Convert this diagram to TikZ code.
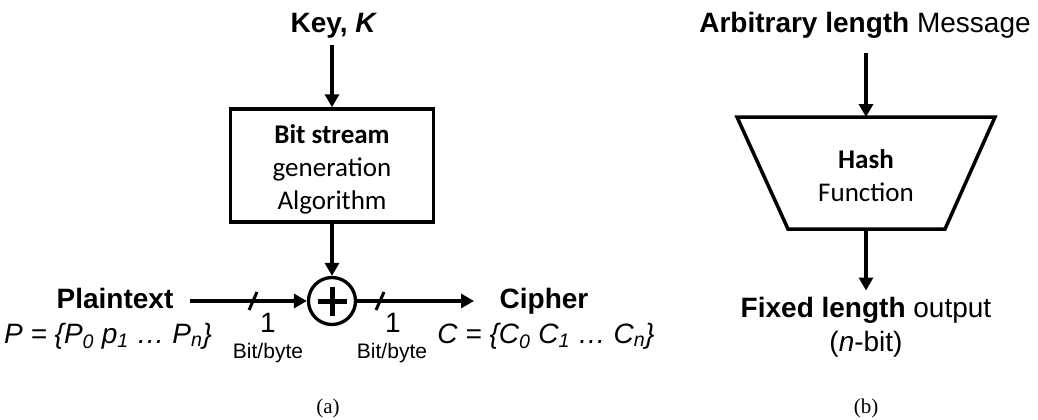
\documentclass[tikz,border=0pt]{standalone}
\usepackage{fontspec}
\setmainfont{Liberation Sans}
\newfontfamily\calib{Carlito}
\newfontfamily\serif{Liberation Serif}
\usetikzlibrary{arrows.meta}

\begin{document}
\begin{tikzpicture}[x=1pt,y=-1pt,
  arr/.style={line width=3.3pt,-{Triangle[length=13pt,width=14pt]}},
  lbl/.style={inner sep=0pt,anchor=base,font=\fontsize{28}{33}\selectfont},
  small/.style={inner sep=0pt,anchor=base,font=\fontsize{21}{25}\selectfont},
  blk/.style={draw,line width=3.5pt,inner sep=0pt},
  blktext/.style={inner sep=0pt,align=center,font=\calib\fontsize{27}{33}\selectfont},
  capt/.style={inner sep=0pt,anchor=base,font=\serif\fontsize{21}{25}\selectfont},
  tick/.style={line width=3pt}]
\useasboundingbox (0,0) rectangle (1038,420);

% ---------- (a) stream cipher ----------
\node[lbl] (key) at (334,33) {\textbf{Key, \textit{K}}};
\node[blk,minimum width=203pt,minimum height=113pt] (gen) at (332,165.5) {};
\node[blktext] (gentext) at (332,169) {\textbf{Bit stream}\\generation\\Algorithm};
\node[circle,draw,line width=3.3pt,minimum size=47pt,inner sep=0pt] (xor) at (332,301) {};
\draw[line width=5pt] ([xshift=-14.5pt]xor.center) -- ([xshift=14.5pt]xor.center);
\draw[line width=5pt] ([yshift=-14.5pt]xor.center) -- ([yshift=14.5pt]xor.center);

\node[lbl] (plain) at (115,308) {\textbf{Plaintext}};
\node[lbl] (pset) at (108,343) {\textit{P = \{P\textsubscript{0} p\textsubscript{1} … P\textsubscript{n}\}}};
\node[lbl] (cipher) at (544,308) {\textbf{Cipher}};
\node[lbl] (cset) at (546,343) {\textit{C = \{C\textsubscript{0} C\textsubscript{1} … C\textsubscript{n}\}}};

\coordinate (pin) at (190,301);
\coordinate (cout) at (474,301);

\draw[arr,shorten <=6pt] (key.south -| gen.north) -- (gen.north);
\draw[arr] (gen.south) -- (xor.north);
\draw[arr] (pin) -- (xor.west);
\draw[arr] (xor.east) -- (cout);

% bus-width ticks
\draw[tick] (249,310) -- (257,292);
\draw[tick] (376,310) -- (384,292);
\node[lbl] (w1) at (268,332) {1};
\node[lbl] (w2) at (393,332) {1};
\node[small] (u1) at (268,358) {Bit/byte};
\node[small] (u2) at (392,358) {Bit/byte};

\node[capt] (ca) at (328,413) {(a)};

% ---------- (b) hash function ----------
\node[lbl] (msg) at (865,33) {\textbf{Arbitrary length} Message};
\coordinate (tl) at (737,117);
\coordinate (tr) at (995,117);
\coordinate (br) at (945,229);
\coordinate (bl) at (788,229);
\coordinate (ttop) at (866,117);
\coordinate (tbot) at (866,229);
\draw[line width=3.5pt,line join=miter] (tl) -- (tr) -- (br) -- (bl) -- cycle;
\node[blktext] (hash) at (866,176) {\textbf{Hash}\\Function};

\node[lbl] (out) at (866,317) {\textbf{Fixed length} output};
\node[lbl] (nbit) at (866,351) {(\textit{n}-bit)};
\draw[arr,shorten <=14pt] (msg.south -| ttop) -- (ttop);
\draw[arr,shorten >=6pt] (tbot) -- (out.north -| tbot);

\node[capt] (cb) at (866,413) {(b)};
\end{tikzpicture}
\end{document}
